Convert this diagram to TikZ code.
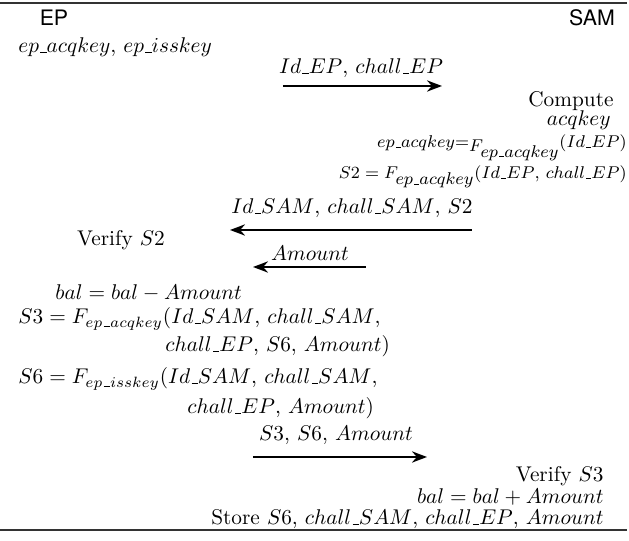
\documentclass[tikz,border=0pt]{standalone}
\usepackage{amsmath}
\usepackage{fontspec}
\newfontfamily\partyfont{TeX Gyre Heros}
\usetikzlibrary{arrows.meta,positioning}
\newcommand{\uu}{\kern.06em\vbox{\hrule width.3em}}

\begin{document}
\begin{tikzpicture}[x=0.0165cm,y=-0.0165cm,>=Stealth,
  rule/.style={black!80,line width=0.6pt},
  msg/.style={->,line width=0.9pt},
  party/.style={anchor=base,font=\partyfont},
  txt/.style={anchor=base west,inner sep=0pt},
  rtxt/.style={anchor=base east,inner sep=0pt},
  lbl/.style={anchor=base,inner sep=0pt},
  eqn/.style={rtxt,font=\fontsize{8.2}{10}\selectfont}]
\useasboundingbox (0,0) rectangle (629,541);
% frame rules
\coordinate (TL) at (0,3); \coordinate (TR) at (627,3);
\coordinate (BL) at (0,530); \coordinate (BR) at (627,530);
\draw[rule] (TL)--(TR);
\draw[rule] (BL)--(BR);
% the two parties
\node[party] (EP) at (54,26) {EP};
\node[party] (SAM) at (592,26) {SAM};
\node[txt] (keys) at (18,53) {$ep\uu acqkey$, $ep\uu isskey$};
% messages (coordinates of the arrow ends)
\coordinate (m1a) at (283,86);  \coordinate (m1b) at (442,86);
\coordinate (m2a) at (472,230); \coordinate (m2b) at (230,230);
\coordinate (m3a) at (366,267); \coordinate (m3b) at (253,267);
\coordinate (m4a) at (253,457); \coordinate (m4b) at (427,457);
\foreach \a/\b in {m1a/m1b,m2a/m2b,m3a/m3b,m4a/m4b}{\draw[msg] (\a)--(\b);}
\node[lbl] (l1) at (361,74) {$Id\uu EP$, $chall\uu EP$};
\node[lbl] (l2) at (352,214) {$Id\uu SAM$, $chall\uu SAM$, $S2$};
\node[lbl] (l3) at (310,261) {$Amount$};
\node[lbl] (l4) at (336,441) {$S3$, $S6$, $Amount$};
% SAM side, first step
\node[rtxt] (comp) at (614,107) {Compute};
\node[rtxt] (acq) at (611,126) {$acqkey$};
\node[eqn] (eqa) at (627,148) {$ep\uu acqkey{=}\raisebox{-1.5pt}{$F_{\textstyle ep\uu acqkey}$}(Id\uu EP)$};
\node[eqn] (eqb) at (627,179) {$S2 = F_{\textstyle ep\uu acqkey}(Id\uu EP$, $chall\uu EP)$};
% EP side
\node[lbl] (ver2) at (121,246) {Verify $S2$};
\node[txt] (bal1) at (55,300) {$bal = bal - Amount$};
\node[txt] (s3a) at (18,324) {$S3 = F_{ep\uu acqkey}(Id\uu SAM$, $chall\uu SAM$,};
\node[txt] (s3b) at (165,352) {$chall\uu EP$, $S6$, $Amount)$};
\node[txt] (s6a) at (18,384) {$S6 = F_{ep\uu isskey}(Id\uu SAM$, $chall\uu SAM$,};
\node[txt] (s6b) at (187,414) {$chall\uu EP$, $Amount)$};
% SAM side, last step
\node[rtxt] (ver3) at (604,482) {Verify $S3$};
\node[rtxt] (bal2) at (604,504) {$bal = bal + Amount$};
\node[rtxt] (store) at (604,525) {Store $S6$, $chall\uu SAM$, $chall\uu EP$, $Amount$};
\end{tikzpicture}
\end{document}
